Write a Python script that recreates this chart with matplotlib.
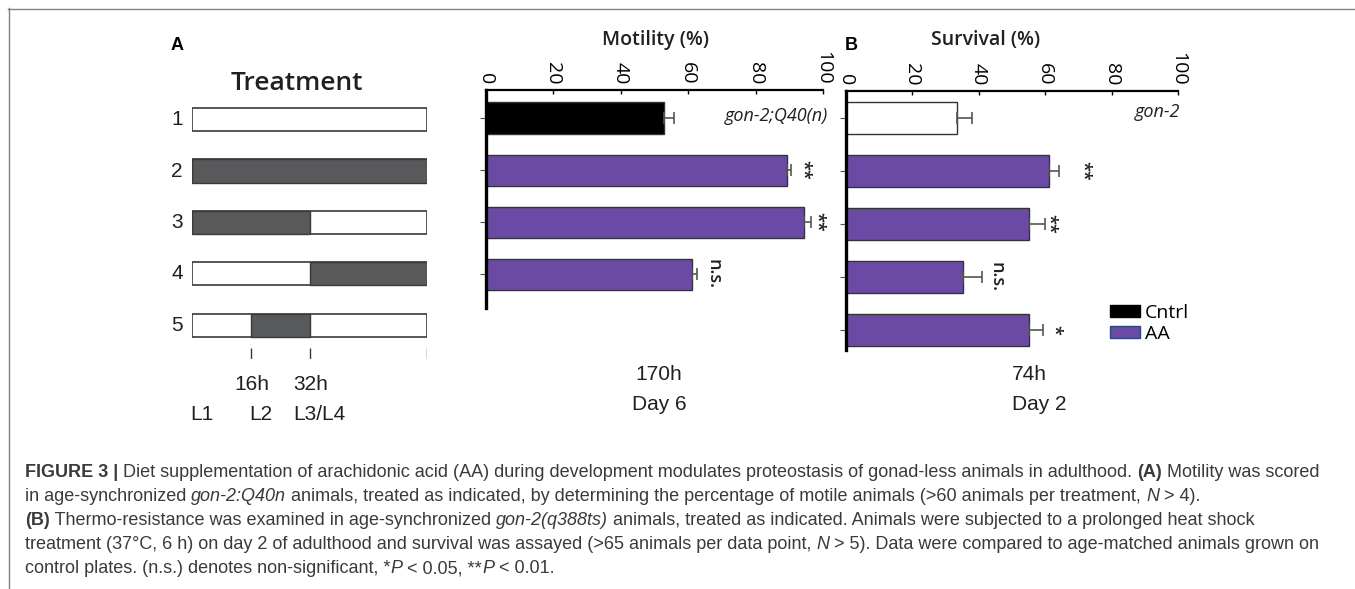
import numpy as np
import matplotlib
matplotlib.use("Agg")
import matplotlib.pyplot as plt
from matplotlib.patches import Patch

# treatment schedule (hours of AA exposure during development)
treat_rows = ["1", "2", "3", "4", "5"]
treat_start = [None, 0, 0, 32, 16]
treat_end = [None, 64, 32, 64, 32]
stage_hours = [16, 32, 64]
hour_labels = ["16h", "32h", ""]
stage_pos = [0, 16, 32]
stage_labels = ["L1", "L2", "L3/L4"]

# motility, day 6 (170h)
mot_vals = [52.8, 89.3, 94.4, 61.1]
mot_err = [3.0, 1.3, 2.0, 1.6]
mot_sig = ["", "**", "**", "n.s."]

# survival, day 2 (74h)
surv_vals = [33.4, 61.1, 55.1, 35.2, 55.1]
surv_err = [4.5, 3.0, 4.8, 5.8, 4.2]
surv_sig = ["", "**", "**", "n.s.", "*"]

ticks = [0, 20, 40, 60, 80, 100]

W, H = 1355, 589
purple = "#6b4aa6"
dark = "#58595b"
txt = "#231f20"


def fx(x):
    return x / W


def fy(y):
    return 1 - y / H


fig = plt.figure(figsize=(W / 100, H / 100), dpi=100)

# frame lines (top + left)
fig.add_artist(plt.Line2D([fx(8), 1], [fy(8.5), fy(8.5)], color="#808080", lw=1))
fig.add_artist(plt.Line2D([fx(8.5), fx(8.5)], [fy(8), 0], color="#808080", lw=1))

# ---------------- treatment panel ----------------
axt = fig.add_axes([fx(192), fy(359), fx(427) - fx(192), fy(94) - fy(359)])
axt.set_xlim(0, 64)
axt.set_ylim(4.66, -0.5)
axt.axis("off")
for i, lab in enumerate(treat_rows):
    axt.barh(i, 64, left=0, height=0.45, color="white", edgecolor="#3a3a3a", lw=1.2)
    if treat_start[i] is not None:
        axt.barh(i, treat_end[i] - treat_start[i], left=treat_start[i], height=0.45,
                 color=dark, edgecolor="#3a3a3a", lw=1.0)
    axt.text(-2.5, i, lab, ha="right", va="center", fontsize=15,
             family="Liberation Sans", color=txt)
axt.vlines(stage_hours, 4.44, 4.66, color="#3a3a3a", lw=1)
for h, lab in zip(stage_hours, hour_labels):
    axt.annotate(lab, (h, 4.66), xytext=(1, -18), textcoords="offset points",
                 ha="center", va="center", fontsize=15, family="Liberation Sans", color=txt)
for p, lab in zip(stage_pos, stage_labels):
    axt.annotate(lab, (p, 4.66), xytext=(7, -40), textcoords="offset points",
                 ha="center", va="center", fontsize=15, family="Liberation Sans", color=txt)

fig.text(fx(297), fy(83), "Treatment", ha="center", va="center", fontsize=19,
         family="Open Sans", weight="semibold", color=txt)
fig.text(fx(177), fy(45), "A", ha="center", va="center", fontsize=13,
         family="Liberation Sans", weight="bold", color="black")
fig.text(fx(851), fy(45), "B", ha="center", va="center", fontsize=13,
         family="Liberation Sans", weight="bold", color="black")


def bar_panel(ax, vals, errs, colors, sig, sig_off, ylim):
    ys = np.arange(len(vals))
    ax.barh(ys, vals, height=0.6, color=colors, edgecolor="#333333", lw=1.0)
    ax.errorbar(vals, ys, xerr=[np.zeros(len(vals)), errs], fmt="none",
                ecolor="#555555", elinewidth=1.2, capsize=4, capthick=1.2)
    ax.set_xlim(0, 100)
    ax.set_ylim(*ylim)
    ax.xaxis.tick_top()
    ax.set_xticks(ticks)
    ax.set_xticklabels([str(t) for t in ticks], rotation=-90, fontsize=14,
                       family="Open Sans", color="black")
    ax.tick_params(axis="x", length=3, width=1, pad=4, direction="in")
    ax.set_yticks(ys)
    ax.set_yticklabels([])
    ax.tick_params(axis="y", length=4, width=0.8, color="#555555")
    for s in ["right", "bottom"]:
        ax.spines[s].set_visible(False)
    ax.spines["left"].set_linewidth(2.4)
    ax.spines["top"].set_linewidth(1.6)
    for y, v, e, s, o in zip(ys, vals, errs, sig, sig_off):
        if s:
            ax.annotate(s, (v + e, y), xytext=(o, 0), textcoords="offset points",
                        rotation=-90, ha="center", va="center", fontsize=13,
                        family="Open Sans", weight="semibold", color=txt)


# ---------------- motility panel ----------------
axm = fig.add_axes([fx(486), fy(308), fx(823) - fx(486), fy(90) - fy(308)])
bar_panel(axm, mot_vals, mot_err, ["black", purple, purple, purple], mot_sig,
          [0, 8.5, 4.5, 11.5], (3.65, -0.54))
fig.text(fx(656), fy(40), "Motility (%)", ha="center", va="center", fontsize=14,
         family="Open Sans", weight="semibold", color=txt)
fig.text(fx(828), fy(116), "gon-2;Q40(n)", ha="right", va="center", fontsize=13,
         family="Open Sans", style="italic", color=txt)
fig.text(fx(659), fy(375), "170h", ha="center", va="center", fontsize=15,
         family="Liberation Sans", color=txt)
fig.text(fx(659), fy(405), "Day 6", ha="center", va="center", fontsize=15,
         family="Liberation Sans", color=txt)

# ---------------- survival panel ----------------
axs = fig.add_axes([fx(846), fy(350), fx(1178) - fx(846), fy(91) - fy(350)])
bar_panel(axs, surv_vals, surv_err, ["white", purple, purple, purple, purple], surv_sig,
          [0, 17.5, 3, 10, 8], (4.38, -0.51))
fig.text(fx(986), fy(40), "Survival (%)", ha="center", va="center", fontsize=14,
         family="Open Sans", weight="semibold", color=txt)
fig.text(fx(1180), fy(112), "gon-2", ha="right", va="center", fontsize=13,
         family="Open Sans", style="italic", color=txt)
fig.text(fx(1029), fy(375), "74h", ha="center", va="center", fontsize=15,
         family="Liberation Sans", color=txt)
fig.text(fx(1039), fy(405), "Day 2", ha="center", va="center", fontsize=15,
         family="Liberation Sans", color=txt)

handles = [Patch(facecolor="black", edgecolor="black"),
           Patch(facecolor=purple, edgecolor="#2a4a7a")]
fig.legend(handles, ["Cntrl", "AA"], loc="upper left",
           bbox_to_anchor=(fx(1110), fy(304)), frameon=False, borderpad=0,
           borderaxespad=0, handlelength=1.55, handleheight=0.6,
           handletextpad=0.25, labelspacing=0.15,
           prop={"family": "Open Sans", "size": 14})

# ---------------- caption ----------------
cap_font = dict(family="Liberation Sans", size=13)
cap_color = "#3a3a3a"
renderer = fig.canvas.get_renderer()


def text_w(s, **kw):
    t1 = fig.text(0, 0, "|" + s + "|", **kw)
    t2 = fig.text(0, 0, "||", **kw)
    w = t1.get_window_extent(renderer).width - t2.get_window_extent(renderer).width
    t1.remove()
    t2.remove()
    return w


def caption_line(y, runs):
    x = 25
    for s, weight, style in runs:
        kw = dict(fontfamily=cap_font["family"], fontsize=cap_font["size"],
                  fontweight=weight, fontstyle=style)
        fig.text(fx(x), fy(y), s, ha="left", va="baseline", color=cap_color, **kw)
        x += text_w(s, **kw)


n, b, i = "normal", "bold", "italic"
caption = [
    [("FIGURE 3 | ", b, n),
     ("Diet supplementation of arachidonic acid (AA) during development modulates "
      "proteostasis of gonad-less animals in adulthood. ", n, n),
     ("(A)", b, n), (" Motility was scored", n, n)],
    [("in age-synchronized ", n, n), ("gon-2:Q40n", n, i),
     (" animals, treated as indicated, by determining the percentage of motile animals "
      "(>60 animals per treatment, ", n, n), ("N", n, i), (" > 4).", n, n)],
    [("(B)", b, n), (" Thermo-resistance was examined in age-synchronized ", n, n),
     ("gon-2(q388ts)", n, i),
     (" animals, treated as indicated. Animals were subjected to a prolonged heat shock", n, n)],
    [("treatment (37°C, 6 h) on day 2 of adulthood and survival was assayed "
      "(>65 animals per data point, ", n, n), ("N", n, i),
     (" > 5). Data were compared to age-matched animals grown on", n, n)],
    [("control plates. (n.s.) denotes non-significant, *", n, n), ("P", n, i),
     (" < 0.05, **", n, n), ("P", n, i), (" < 0.01.", n, n)],
]
for k, runs in enumerate(caption):
    caption_line(477 + 24 * k, runs)

fig.savefig("out.png", dpi=100)
